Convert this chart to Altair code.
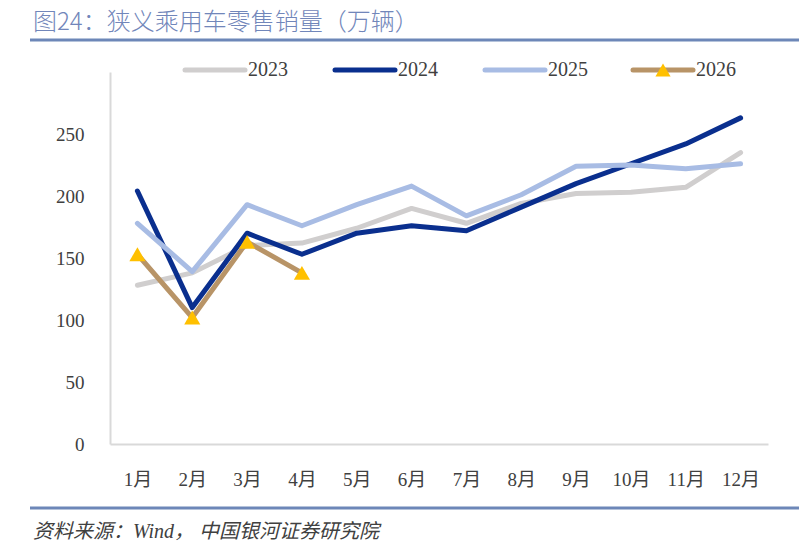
import altair as alt
import pandas as pd

months = ["1月", "2月", "3月", "4月", "5月", "6月", "7月", "8月", "9月", "10月", "11月", "12月"]
y2023 = [128, 138, 160, 162, 174, 190, 178, 194, 202, 203, 207, 235]
y2024 = [204, 110, 170, 153, 170, 176, 172, 191, 210, 226, 242, 263]
y2025 = [178, 139, 193, 176, 193, 208, 184, 201, 224, 225, 222, 226]
y2026 = [153, 102, 163, 138]
years = ["2023", "2024", "2025", "2026"]
colors = ["#D0CECE", "#0A2F8E", "#A8BCE4", "#B89467"]
marker_color = "#FFC000"

rows = []
for yr, vals in zip(years, [y2023, y2024, y2025, y2026]):
    for m, v in zip(months, vals):
        rows.append({"month": m, "value": v, "year": yr})
df = pd.DataFrame(rows)

LAB = "Liberation Serif, Noto Sans CJK SC"
W, H = 658, 372

xenc = alt.X("month:N", sort=months, scale=alt.Scale(paddingInner=0, paddingOuter=0),
             axis=alt.Axis(title=None, labelAngle=0, ticks=False, labelPadding=26,
                           domainColor="#D9D9D9", domainWidth=2, labelFont=LAB,
                           labelFontSize=19, labelColor="#404040"))
yenc = alt.Y("value:Q", scale=alt.Scale(domain=[0, 300], nice=False),
             axis=alt.Axis(title=None, values=[0, 50, 100, 150, 200, 250], grid=False,
                           ticks=False, labelPadding=26, domainColor="#D9D9D9",
                           domainWidth=2, labelFont=LAB, labelFontSize=19,
                           labelColor="#404040"))
cenc = alt.Color("year:N", scale=alt.Scale(domain=years, range=colors), legend=None)

base = alt.Chart(df)
lines = base.mark_line(strokeWidth=5, strokeCap="round", strokeJoin="round").encode(
    x=xenc, y=yenc, color=cenc, order=alt.Order("year:N"))
pts = base.transform_filter(alt.datum.year == "2026").mark_point(
    shape="triangle-up", filled=True, size=260, color=marker_color, opacity=1).encode(
    x=alt.X("month:N", sort=months), y="value:Q")

layers = [lines, pts]

# title & decorations
dummy = alt.Chart(pd.DataFrame({"a": [0]}))
layers.append(dummy.mark_text(text="图24：狭义乘用车零售销量（万辆）", font="Noto Sans CJK SC",
                              fontSize=24, fontWeight=300, color="#7186BA", align="left",
                              baseline="alphabetic").encode(x=alt.value(-77), y=alt.value(-42)))
layers.append(dummy.mark_rule(color="#6D87B8", strokeWidth=3).encode(
    x=alt.value(-80), x2=alt.value(689), y=alt.value(-32)))
layers.append(dummy.mark_rule(color="#6D87B8", strokeWidth=3).encode(
    x=alt.value(-80), x2=alt.value(689), y=alt.value(436)))
layers.append(dummy.mark_text(text="资料来源：Wind， 中国银河证券研究院", font="Liberation Serif, Noto Sans CJK SC",
                              fontSize=20, fontStyle="italic", color="#404040", align="left",
                              baseline="alphabetic").encode(x=alt.value(-77), y=alt.value(466)))

# legend
leg_x = [75, 225, 375, 523]
for i, yr in enumerate(years):
    lx = leg_x[i]
    layers.append(dummy.mark_rule(color=colors[i], strokeWidth=5, strokeCap="round").encode(
        x=alt.value(lx), x2=alt.value(lx + 60), y=alt.value(-2)))
    layers.append(dummy.mark_text(text=yr, font=LAB, fontSize=20, color="#404040",
                                  align="left", baseline="middle").encode(
        x=alt.value(lx + 63), y=alt.value(-2)))
layers.append(dummy.mark_point(shape="triangle-up", filled=True, size=230, color=marker_color,
                               opacity=1).encode(x=alt.value(leg_x[3] + 30), y=alt.value(-2)))

chart = alt.layer(*layers).properties(
    width=W, height=H,
    padding={"left": 110, "top": 72, "right": 41, "bottom": 107},
    autosize=alt.AutoSizeParams(type="none"),
    background="white",
).configure_view(stroke=None)

chart.save("out.html", embed_options={"renderer": "svg", "actions": False})
